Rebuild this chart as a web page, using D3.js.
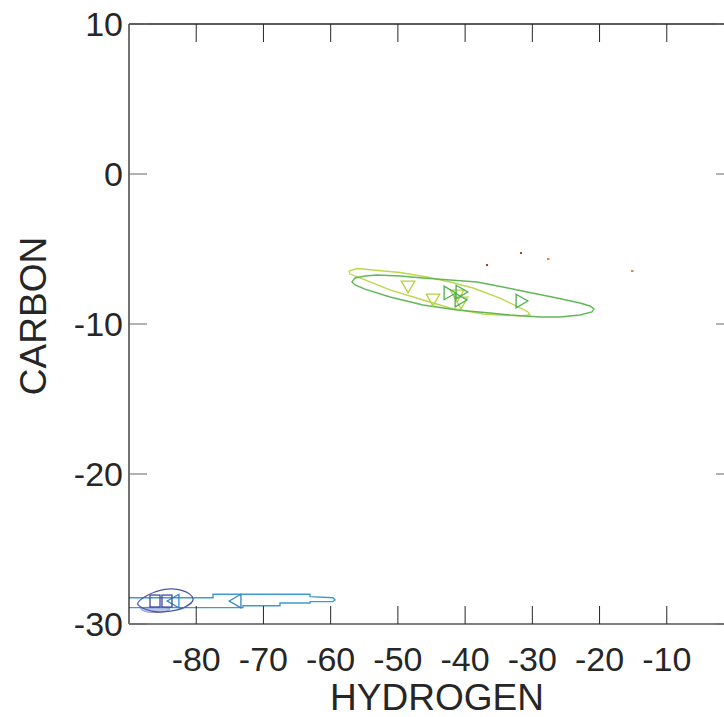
<!DOCTYPE html>
<html><head><meta charset="utf-8">
<script src="https://cdn.jsdelivr.net/npm/d3@7"></script>
<style>body{margin:0;background:#fff}svg{display:block}text{font-family:"Liberation Sans",Arial,sans-serif;fill:#262626}</style>
</head><body><svg id="c" width="724" height="717"></svg>
<script>
const xTicks = [-80,-70,-60,-50,-40,-30,-20,-10];
const yTicks = [10,0,-10,-20,-30];
const xLabel = "HYDROGEN", yLabel = "CARBON";

// contour outlines [hydrogen, carbon]
const contourLightGreen = [[-57.27,-6.47],[-56.08,-6.30],[-53.70,-6.40],[-49.68,-6.57],[-45.67,-6.87],[-42.25,-7.20],[-38.82,-7.60],[-34.81,-8.27],[-31.83,-8.93],[-30.64,-9.20],[-30.35,-9.40],[-31.83,-9.47],[-34.81,-9.40],[-37.34,-9.33],[-42.25,-8.93],[-46.26,-8.40],[-51.17,-7.73],[-55.64,-6.93],[-57.12,-6.67]];
const contourGreen = [[-56.83,-7.20],[-56.38,-6.93],[-54.89,-6.80],[-53.11,-6.73],[-49.68,-6.80],[-46.26,-6.93],[-42.25,-7.07],[-38.23,-7.20],[-34.36,-7.53],[-30.79,-7.87],[-26.33,-8.27],[-22.91,-8.60],[-21.42,-8.80],[-20.82,-9.0],[-21.12,-9.20],[-22.91,-9.40],[-25.88,-9.53],[-28.86,-9.53],[-33.32,-9.40],[-36.30,-9.27],[-41.20,-9.07],[-46.26,-8.73],[-51.17,-8.20],[-54.89,-7.67],[-56.38,-7.40]];
const contourBlue = [[-91,-28.25],[-77.50,-28.25],[-77.50,-28.02],[-63.07,-28.02],[-63.07,-28.18],[-59.65,-28.25],[-59.35,-28.40],[-59.65,-28.51],[-63.07,-28.51],[-63.07,-28.60],[-67.54,-28.60],[-67.54,-28.78],[-73.04,-28.78],[-73.04,-28.91],[-91,-28.91]];
const contourNavy = [[-88.71,-28.62],[-87.17,-28.07],[-85.09,-27.73],[-83.16,-27.67],[-81.22,-27.93],[-80.48,-28.40],[-81.67,-28.87],[-83.60,-29.13],[-85.69,-29.20],[-87.62,-29.00]];
const contourLavender = [[-88.21,-28.93],[-85.39,-28.87],[-83.90,-29.0],[-85.09,-29.2],[-87.32,-29.2]];

// sample markers
const downTriLightGreen = [[-48.49,-7.40],[-44.78,-8.27],[-41.20,-8.0],[-40.61,-8.47]];
const rightTriGreen = [[-42.54,-7.93],[-40.76,-7.87],[-40.9,-8.4],[-31.83,-8.47]];
const leftTriBlue = [[-83.16,-28.47],[-73.93,-28.47]];
const squareNavy = [[-86.13,-28.47],[-84.35,-28.47]];
const dotsDark = [[-31.68,-5.27],[-36.74,-6.07]];
const dotsOrange = [[-27.67,-5.67],[-15.17,-6.47]];

const svg = d3.select("#c");
const L=129,R=734,T=24,B=624;
const x = d3.scaleLinear().domain([-90,0]).range([L,R]);
const y = d3.scaleLinear().domain([-30,10]).range([B,T]);

svg.append("defs").append("clipPath").attr("id","clip").append("rect").attr("x",L).attr("y",T).attr("width",R-L).attr("height",B-T);
const g = svg.append("g").attr("clip-path","url(#clip)");
const lineLin = d3.line().x(d=>x(d[0])).y(d=>y(d[1])).curve(d3.curveLinearClosed);
const lineSmooth = d3.line().x(d=>x(d[0])).y(d=>y(d[1])).curve(d3.curveCardinalClosed);

g.append("path").attr("d",lineSmooth(contourLavender)).attr("fill","#b4b4e0").attr("fill-opacity",0.8).attr("stroke","#9a9ad0").attr("stroke-width",1);
g.append("path").attr("d",lineLin(contourLightGreen)).attr("fill","none").attr("stroke","#bcd84e").attr("stroke-width",1.4);
g.append("path").attr("d",lineLin(contourGreen)).attr("fill","none").attr("stroke","#63b75a").attr("stroke-width",1.4);
g.append("path").attr("d",lineLin(contourBlue)).attr("fill","none").attr("stroke","#3f9ad0").attr("stroke-width",1.4);
g.append("path").attr("d",lineSmooth(contourNavy)).attr("fill","none").attr("stroke","#4a58a8").attr("stroke-width",1.3);

function tri(rot, data, color){
  const s = d3.symbol(d3.symbolTriangle, 80);
  g.selectAll(null).data(data).join("path").attr("d",s)
   .attr("transform",d=>`translate(${x(d[0])},${y(d[1])}) rotate(${rot})`)
   .attr("fill","none").attr("stroke",color).attr("stroke-width",1.3);
}
tri(180, downTriLightGreen, "#b2d440");
tri(90, rightTriGreen, "#4fae4f");
tri(-90, leftTriBlue, "#2f86c4");
g.selectAll(null).data(squareNavy).join("rect")
 .attr("x",d=>x(d[0])-5).attr("y",d=>y(d[1])-6).attr("width",10).attr("height",12)
 .attr("fill","none").attr("stroke","#3f4d9e").attr("stroke-width",1.3);
g.selectAll(null).data(dotsDark).join("rect").attr("x",d=>x(d[0])-1).attr("y",d=>y(d[1])-1).attr("width",2).attr("height",2).attr("fill","#9a3a20");
g.selectAll(null).data(dotsOrange).join("rect").attr("x",d=>x(d[0])-1).attr("y",d=>y(d[1])-1).attr("width",2.5).attr("height",2).attr("fill","#f07a3a");

// axes
const ax = svg.append("g");
ax.append("line").attr("x1",L).attr("x2",R).attr("y1",T).attr("y2",T).attr("stroke","#262626").attr("stroke-width",1.3);
ax.append("line").attr("x1",L).attr("x2",L).attr("y1",T).attr("y2",B).attr("stroke","#262626").attr("stroke-width",1.3);
ax.append("line").attr("x1",L).attr("x2",R).attr("y1",B).attr("y2",B).attr("stroke","#808080").attr("stroke-width",2);
ax.append("line").attr("x1",R).attr("x2",R).attr("y1",T).attr("y2",B).attr("stroke","#262626").attr("stroke-width",1.3);
const tl=18;
xTicks.forEach(v=>{
  ax.append("line").attr("x1",x(v)).attr("x2",x(v)).attr("y1",B).attr("y2",B-tl).attr("stroke","#262626");
  ax.append("line").attr("x1",x(v)).attr("x2",x(v)).attr("y1",T).attr("y2",T+tl).attr("stroke","#262626");
  ax.append("text").attr("x",x(v)).attr("y",B+47).attr("text-anchor","middle").attr("font-size",34).text(v);
});
yTicks.forEach(v=>{
  ax.append("line").attr("x1",L).attr("x2",L+tl).attr("y1",y(v)).attr("y2",y(v)).attr("stroke","#666");
  ax.append("line").attr("x1",R).attr("x2",R-tl).attr("y1",y(v)).attr("y2",y(v)).attr("stroke","#666");
  ax.append("text").attr("x",L-6).attr("y",y(v)).attr("dy","0.36em").attr("text-anchor","end").attr("font-size",34).text(v);
});
svg.append("text").attr("x",437).attr("y",710).attr("text-anchor","middle").attr("font-size",37).text(xLabel);
svg.append("text").attr("transform","translate(46,316) rotate(-90)").attr("text-anchor","middle").attr("font-size",37).text(yLabel);
</script></body></html>
